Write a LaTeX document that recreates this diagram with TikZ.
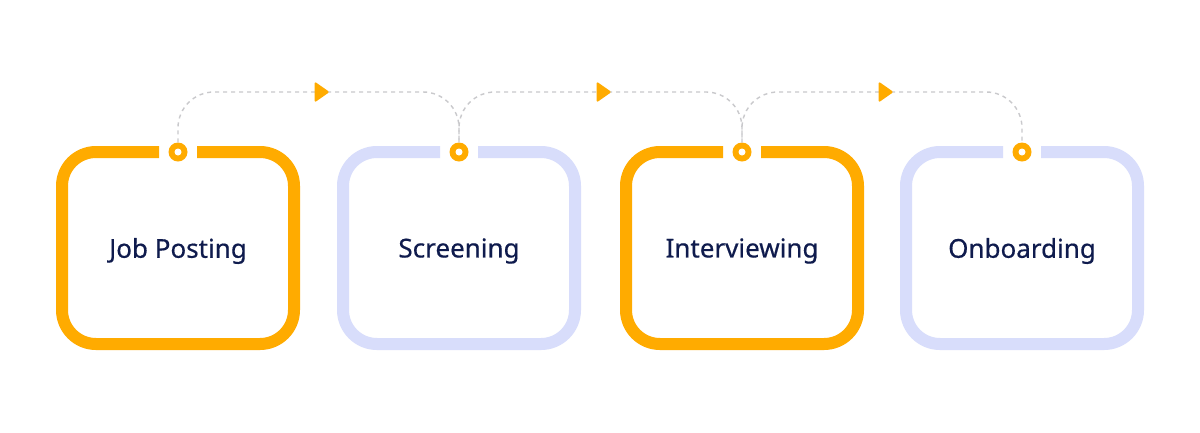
\documentclass[tikz,border=0pt]{standalone}
\usepackage{fontspec}
\setmainfont{Noto Sans}
\newfontfamily\labelfont[FakeBold=0.5]{Noto Sans}
\usetikzlibrary{shapes.geometric}
\definecolor{accent}{HTML}{FFAB00}
\definecolor{lav}{HTML}{D8DDFB}
\definecolor{navy}{HTML}{0F1B4D}
\definecolor{dashgray}{HTML}{C9C9CC}
\tikzset{
  frame/.style={line width=12pt, rounded corners=34pt, line cap=butt},
  dot/.style={circle, fill=accent, minimum size=19pt, inner sep=0pt},
  hole/.style={circle, fill=white, minimum size=7pt, inner sep=0pt},
  label/.style={font=\labelfont\fontsize{26}{30}\selectfont, text=navy},
  link/.style={dashgray, line width=1.4pt, dash pattern=on 4pt off 4pt, rounded corners=36pt},
  tip/.style={isosceles triangle, isosceles triangle apex angle=70, fill=accent, inner sep=0pt, minimum height=15pt, minimum width=16pt, rounded corners=1.5pt}
}
\begin{document}
\begin{tikzpicture}[x=1pt,y=-1pt]
\useasboundingbox[fill=white] (0,0) rectangle (1200,432);
% boxes
\foreach \cx/\col in {178/accent,459/lav,742/accent,1022/lav}{
  \draw[frame,\col] (\cx+19,152) -- (\cx+116,152) -- (\cx+116,344) -- (\cx-116,344) -- (\cx-116,152) -- (\cx-19,152);
}
\node[dot] (d1) at (178,152) {};
\node[dot] (d2) at (459,152) {};
\node[dot] (d3) at (742,152) {};
\node[dot] (d4) at (1022,152) {};
\foreach \n in {d1,d2,d3,d4}{\node[hole] at (\n) {};}
\node[label] (t1) at (178,251) {Job Posting};
\node[label] (t2) at (459,251) {Screening};
\node[label] (t3) at (742,251) {Interviewing};
\node[label] (t4) at (1022,251) {Onboarding};
% connectors
\draw[link] (d1.north) |- (318,92) -| (d2.north);
\draw[link] (d2.north) |- (600,92) -| (d3.north);
\draw[link] (d3.north) |- (882,92) -| (d4.north);
\node[tip] (a1) at (320,92) {};
\node[tip] (a2) at (602,92) {};
\node[tip] (a3) at (884,92) {};
\end{tikzpicture}
\end{document}
